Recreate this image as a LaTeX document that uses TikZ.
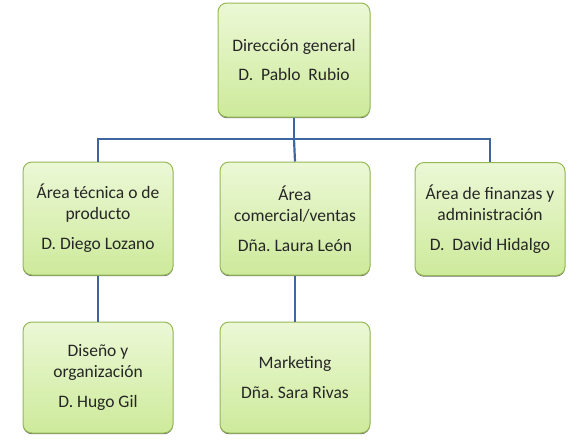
\documentclass[tikz,border=0pt]{standalone}
\usepackage{fontspec}
\setmainfont{Carlito}
\usetikzlibrary{shadows}
\definecolor{boxborder}{RGB}{150,185,85}
\definecolor{boxtop}{RGB}{236,248,214}
\definecolor{boxbot}{RGB}{205,234,155}
\definecolor{connblue}{RGB}{63,102,160}
\begin{document}
\begin{tikzpicture}[x=1pt,y=-1pt,
  box/.style={draw=boxborder, line width=1pt, rounded corners=9pt,
    top color=boxtop, bottom color=boxbot,
    drop shadow={shadow xshift=0pt, shadow yshift=-1.2pt, fill=black!70, opacity=0.8},
    minimum width=150pt, minimum height=113pt, align=center,
    font=\fontsize{17.5}{21}\selectfont, text=black!85, inner sep=2pt},
  conn/.style={draw=connblue, line width=2.2pt}]
\useasboundingbox (0,0) rectangle (587,440);
\node[box, minimum width=152pt, minimum height=114pt] (top) at (294,60) {Dirección general\\[8pt]D.\ \ Pablo\ \ Rubio};
\node[box] (a) at (98,218.5) {Área técnica o de\\producto\\[9pt]D. Diego Lozano};
\node[box] (b) at (295,218.5) {Área\\comercial/ventas\\[9pt]Dña.\ Laura León};
\node[box] (c) at (490,219) {Área de finanzas y\\administración\\[9pt]D.\ \ David Hidalgo};
\node[box, minimum height=111pt] (d) at (98,377.5) {Diseño y\\organización\\[9pt]D. Hugo Gil};
\node[box, minimum height=111pt] (e) at (295,377.5) {Marketing\\[9pt]Dña.\ Sara Rivas};
\coordinate (bus) at (294,139);
\draw[conn] (top.south) -- (top.south |- bus) -| (a.north);
\draw[conn] (top.south |- bus) -| (c.north);
\draw[conn] (top.south |- bus) -- (b.north);
\draw[conn] (a.south) -- (d.north);
\draw[conn] (b.south) -- (e.north);
\end{tikzpicture}
\end{document}
